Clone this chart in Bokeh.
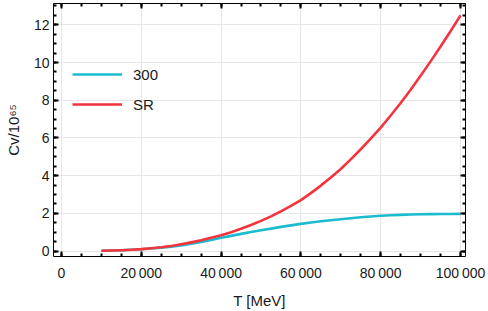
from bokeh.plotting import figure
from bokeh.models import LinearAxis, FixedTicker, Range1d, Legend, LegendItem
from bokeh.embed import file_html
from bokeh.resources import INLINE

# Data
T = [10000, 12500, 15000, 17500, 20000, 22500, 25000, 27500, 30000, 32500,
     35000, 37500, 40000, 42500, 45000, 47500, 50000, 52500, 55000, 57500,
     60000, 62500, 65000, 67500, 70000, 72500, 75000, 77500, 80000, 82500,
     85000, 87500, 90000, 92500, 95000, 97500, 100000]
cv_300 = [0.013, 0.026, 0.043, 0.067, 0.097, 0.135, 0.18, 0.235, 0.30, 0.385,
          0.48, 0.59, 0.70, 0.805, 0.91, 1.005, 1.10, 1.19, 1.28, 1.36,
          1.44, 1.51, 1.58, 1.635, 1.69, 1.74, 1.79, 1.83, 1.87, 1.895,
          1.92, 1.935, 1.95, 1.958, 1.965, 1.968, 1.97]
cv_sr = [0.015, 0.027, 0.045, 0.07, 0.10, 0.145, 0.20, 0.27, 0.36, 0.46,
         0.57, 0.70, 0.84, 1.00, 1.18, 1.38, 1.60, 1.84, 2.10, 2.39,
         2.70, 3.07, 3.47, 3.90, 4.35, 4.86, 5.40, 5.96, 6.55, 7.19,
         7.85, 8.56, 9.30, 10.06, 10.85, 11.66, 12.5]

x_major = [0, 20000, 40000, 60000, 80000, 100000]
x_labels = ["0", "20\u2009000", "40\u2009000", "60\u2009000", "80\u2009000", "100\u2009000"]
x_minor = list(range(0, 100001, 5000))
y_major = [0, 2, 4, 6, 8, 10, 12]
y_minor = [i * 0.5 for i in range(0, 27)]

FONT = "Liberation Sans"
CYAN = "#1cbcd0"
RED = "#f5333d"

p = figure(width=488, height=311, output_backend="svg", toolbar_location=None,
           x_range=Range1d(-2000, 101250), y_range=Range1d(-0.29, 13.13),
           min_border_left=53, min_border_right=23, min_border_top=3,
           min_border_bottom=54)
p.outline_line_color = "black"
p.outline_line_width = 1
p.background_fill_color = "white"
p.border_fill_color = "white"

xt = FixedTicker(ticks=x_major, minor_ticks=x_minor)
yt = FixedTicker(ticks=y_major, minor_ticks=y_minor)

p.xaxis.ticker = xt
p.yaxis.ticker = yt
p.xaxis.major_label_overrides = {v: s for v, s in zip(x_major, x_labels)}

for ax in [p.xaxis[0], p.yaxis[0]]:
    ax.axis_line_color = None
    ax.major_tick_in = 5
    ax.major_tick_out = 0
    ax.minor_tick_in = 3
    ax.minor_tick_out = 0
    ax.major_tick_line_width = 2
    ax.minor_tick_line_width = 2
    ax.major_label_text_font = FONT
    ax.major_label_text_font_size = "14px"
    ax.major_label_text_color = "#1a1a1a"
    ax.axis_label_text_font = FONT
    ax.axis_label_text_font_size = "15px"
    ax.axis_label_text_font_style = "normal"
    ax.axis_label_text_color = "#1a1a1a"

p.xaxis.axis_label = "T [MeV]"
p.yaxis.axis_label = "Cv/10\u2076\u2075"
p.xaxis.major_label_standoff = 8
p.yaxis.major_label_standoff = 4
p.xaxis.axis_label_standoff = 8
p.yaxis.axis_label_standoff = 9

for loc, tk in [("above", xt), ("right", yt)]:
    ax = LinearAxis(ticker=tk, major_label_text_color=None,
                    major_label_text_font_size="1px",
                    major_label_standoff=0, axis_line_color=None,
                    major_tick_in=5, major_tick_out=0, minor_tick_in=3,
                    minor_tick_out=0, major_tick_line_width=2,
                    minor_tick_line_width=2)
    p.add_layout(ax, loc)

p.xgrid.ticker = xt
p.ygrid.ticker = yt
p.grid.grid_line_color = "#e6e6e6"
p.grid.grid_line_width = 1

r1 = p.line(T, cv_300, line_color=CYAN, line_width=2.6, line_join="round")
r2 = p.line(T, cv_sr, line_color=RED, line_width=2.6, line_join="round")

legend = Legend(items=[LegendItem(label="300", renderers=[r1]),
                       LegendItem(label="SR", renderers=[r2])],
                location=(19, 142), border_line_color=None,
                background_fill_alpha=0, padding=0, spacing=10,
                glyph_width=50, glyph_height=20, label_height=20,
                label_standoff=11, label_text_font=FONT,
                label_text_font_size="15px", label_text_color="#1a1a1a")
p.add_layout(legend, "center")

open("out.html", "w").write(file_html(p, INLINE))
